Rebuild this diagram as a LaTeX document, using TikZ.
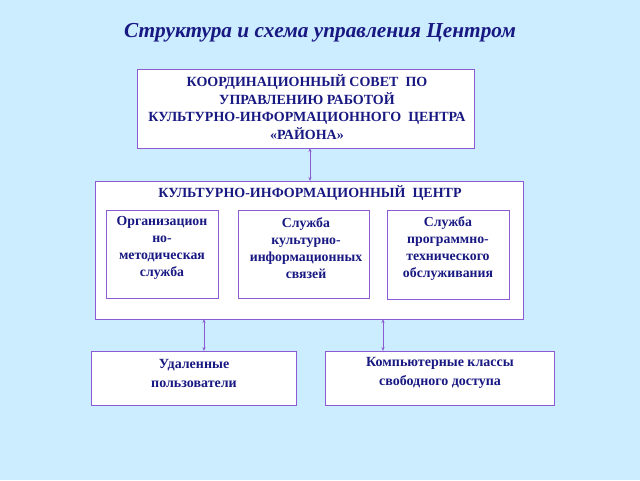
\documentclass[tikz,border=0pt]{standalone}
\usepackage{fontspec}
\setmainfont{Liberation Serif}
\usetikzlibrary{arrows.meta}
\definecolor{bg}{RGB}{204,236,255}
\definecolor{frame}{RGB}{140,90,210}
\definecolor{ink}{RGB}{24,24,130}
\begin{document}
\begin{tikzpicture}[x=1pt,y=-1pt,
  box/.style={draw=frame,line width=1pt,fill=white},
  txt/.style={text=ink,font=\bfseries\fontsize{14}{17.7}\selectfont,align=center,inner sep=0pt},
  itxt/.style={text=ink,font=\bfseries\fontsize{13.8}{17}\selectfont,align=center,inner sep=0pt},
  btxt/.style={text=ink,font=\bfseries\fontsize{14}{19}\selectfont,align=center,inner sep=0pt},
  link/.style={draw=frame,line width=0.8pt,{Stealth[length=4pt,width=3pt]}-{Stealth[length=4pt,width=3pt]}}]
\fill[bg] (0,0) rectangle (640,480);
\useasboundingbox (0,0) rectangle (640,480);
\node[text=ink,font=\bfseries\itshape\fontsize{21.3}{24}\selectfont] (title) at (320,33) {Структура и схема управления Центром};
% boxes
\draw[box] (137,69) rectangle (474,148);
\coordinate (topB) at (310,148);
\node[txt] (council) at (307,107) {КООРДИНАЦИОННЫЙ СОВЕТ \ ПО\\УПРАВЛЕНИЮ РАБОТОЙ\\КУЛЬТУРНО-ИНФОРМАЦИОННОГО \ ЦЕНТРА\\«РАЙОНА»};
\draw[box] (95,181) rectangle (523,319);
\coordinate (midT) at (310,181);
\coordinate (midB1) at (204,319);
\coordinate (midB2) at (383,319);
\node[txt] (kic) at (310,193) {КУЛЬТУРНО-ИНФОРМАЦИОННЫЙ \ ЦЕНТР};
\draw[box] (106,210) rectangle (218,298);
\node[itxt] (s1) at (162,248) {Организацион\\но-\\методическая\\служба};
\draw[box] (238,210) rectangle (369,298);
\node[itxt] (s2) at (306,248) {Служба\\культурно-\\информационных\\связей};
\draw[box] (387,210) rectangle (509,299);
\node[itxt] (s3) at (448,249) {Служба\\программно-\\технического\\обслуживания};
\draw[box] (91,351) rectangle (296,405);
\coordinate (u1) at (204,351);
\node[btxt] (users) at (194,373) {Удаленные\\пользователи};
\draw[box] (325,351) rectangle (554,405);
\coordinate (u2) at (383,351);
\node[btxt] (comp) at (440,373) {Компьютерные классы\\свободного доступа};
\draw[link] (topB) -- (midT);
\draw[link] (midB1) -- (u1);
\draw[link] (midB2) -- (u2);
\end{tikzpicture}
\end{document}
